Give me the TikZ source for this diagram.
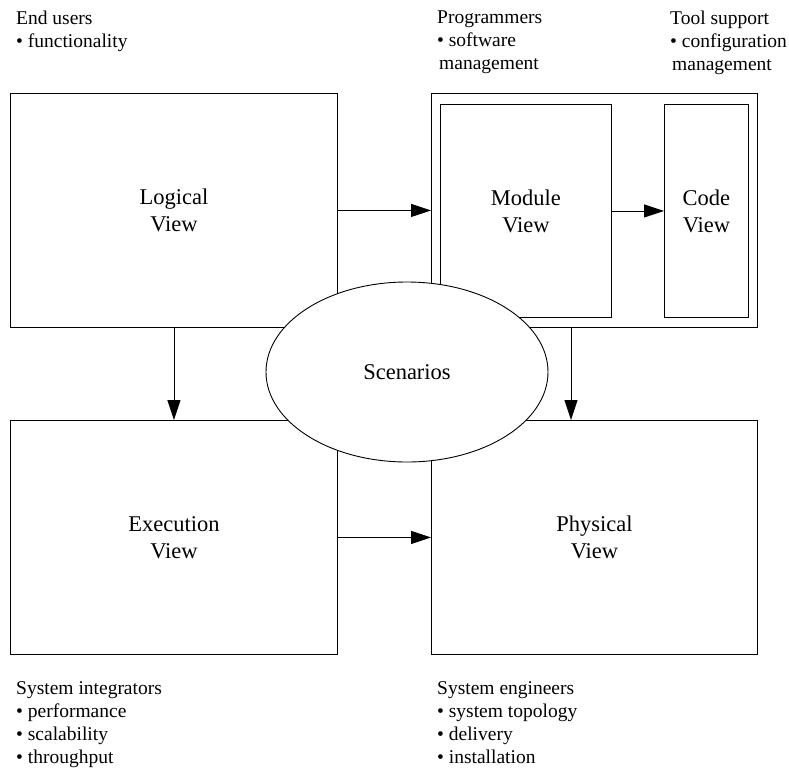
\documentclass[tikz,border=0pt]{standalone}
\usepackage{fontspec}
\setmainfont{Liberation Serif}
\usetikzlibrary{shapes.geometric,arrows.meta}
\begin{document}
\begin{tikzpicture}[x=1pt,y=-1pt,
  box/.style={draw=black, line width=0.9pt, inner sep=0pt, anchor=north west,
    align=center, font=\fontsize{22.5}{27}\selectfont},
  arr/.style={draw=black, line width=0.9pt, -{Triangle[length=20pt,width=13pt]}},
  note/.style={anchor=north west, inner sep=0pt, align=left,
    font=\fontsize{19.5}{23}\selectfont}]
\useasboundingbox (0,0) rectangle (789,782);
\fill[white] (0,0) rectangle (789,782);
% boxes
\node[box, minimum width=327pt, minimum height=234pt] (logical) at (10,93) {Logical\\View};
\node[box, minimum width=326pt, minimum height=234pt] (outer) at (431,93) {};
\node[box, minimum width=171pt, minimum height=213pt] (module) at (440,104) {Module\\View};
\node[box, minimum width=84pt, minimum height=213pt] (code) at (664,104) {Code\\View};
\node[box, minimum width=327pt, minimum height=234pt] (execution) at (10,420) {Execution\\View};
\node[box, minimum width=326pt, minimum height=234pt] (physical) at (431,420) {Physical\\View};
% arrows
\draw[arr] (logical.east) -- (outer.west);
\draw[arr] (module.east) -- (code.west);
\draw[arr] (logical.south) -- (execution.north);
\path (outer.south west) ++(140,0) coordinate (d1);
\draw[arr] (d1) -- (d1 |- physical.north);
\draw[arr] (execution.east) -- (physical.west);
% scenarios
\node[ellipse, draw=black, line width=0.9pt, fill=white, minimum width=282pt,
  minimum height=180pt, inner sep=0pt, font=\fontsize{22.5}{27}\selectfont] (sc) at (407,372) {Scenarios};
% notes
\node[note] (eu) at (16,11) {End users\\• functionality};
\node[note] (pg) at (437,11) {Programmers\\• software\\\hspace{2pt}management};
\node[note] (ts) at (670,11) {Tool support\\• configuration\\\hspace{2pt}management};
\node[note] (si) at (16,681) {System integrators\\• performance\\• scalability\\• throughput};
\node[note] (se) at (437,681) {System engineers\\• system topology\\• delivery\\• installation};
\end{tikzpicture}
\end{document}
